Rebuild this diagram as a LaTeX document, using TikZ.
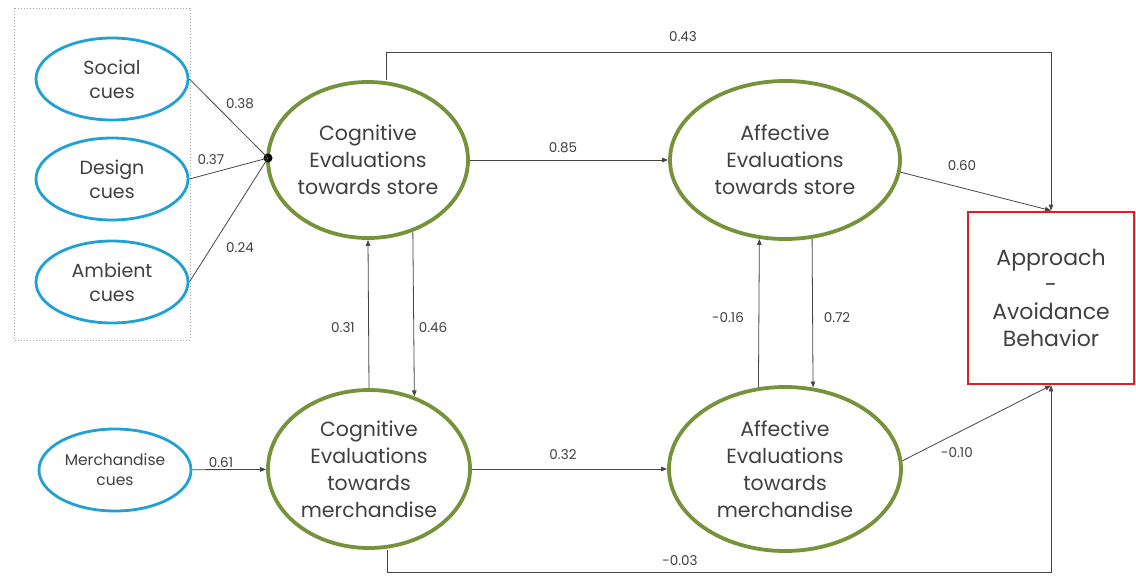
\documentclass[tikz,border=0pt]{standalone}
\usepackage{fontspec}
\setmainfont{Poppins}
\usetikzlibrary{shapes.geometric,arrows.meta}
\definecolor{cueblue}{RGB}{32,160,212}
\definecolor{evgreen}{RGB}{118,146,58}
\definecolor{boxred}{RGB}{220,32,40}
\definecolor{txt}{RGB}{64,64,64}
\definecolor{conn}{RGB}{70,70,70}
\tikzset{
  cue/.style={ellipse, draw=cueblue, line width=2.8pt, inner sep=0pt, minimum width=152pt, minimum height=82pt, text=txt, align=center, font=\fontsize{19}{24}\selectfont},
  evalnode/.style={ellipse, draw=evgreen, line width=3.8pt, inner sep=0pt, text=txt, align=center, font=\fontsize{20.5}{27}\selectfont},
  outbox/.style={rectangle, draw=boxred, line width=2.8pt, inner sep=0pt, minimum width=166pt, minimum height=172pt, text=txt, align=center, font=\fontsize{22}{27}\selectfont},
  arr/.style={draw=conn, line width=0.8pt, -{Triangle[length=6pt,width=4.5pt]}},
  ln/.style={draw=conn, line width=0.8pt},
  lab/.style={text=txt, font=\fontsize{13.5}{15}\selectfont, inner sep=1pt}
}
\begin{document}
\begin{tikzpicture}[x=1pt,y=-1pt]
\useasboundingbox[fill=white] (0,0) rectangle (1136,576);
% dotted group frame
\draw[gray!70, dotted, line width=1pt] (14,8) rectangle (190,340);
% cue nodes
\node[cue] (soc) at (112,79) {Social\\cues};
\node[cue] (des) at (112,179) {Design\\cues};
\node[cue] (amb) at (112,282) {Ambient\\cues};
\node[cue, font=\fontsize{15.5}{20}\selectfont] (mc) at (115,470) {Merchandise\\cues};
% evaluation nodes
\node[evalnode, minimum width=200pt, minimum height=156pt] (cs) at (368,160) {Cognitive\\Evaluations\\towards store};
\node[evalnode, minimum width=202pt, minimum height=158pt] (cm) at (369,469) {Cognitive\\Evaluations\\towards\\merchandise};
\node[evalnode, minimum width=230pt, minimum height=158pt] (as) at (785,160) {Affective\\Evaluations\\towards store};
\node[evalnode, minimum width=232pt, minimum height=164pt] (am) at (785,469) {Affective\\Evaluations\\towards\\merchandise};
% outcome
\node[outbox] (ab) at (1051,298) {Approach\\-\\Avoidance\\Behavior};
% junction
\coordinate (j) at (268,158);
\fill[black] (j) circle (4.5pt);
\draw[ln] (soc.east) -- (j);
\draw[ln] (des.east) -- (j);
\draw[ln] (amb.east) -- (j);
% connectors
\draw[arr] (mc) -- (cm);
\draw[arr] (cs) -- (as);
\draw[arr] (cm) -- (am);
\draw[arr] (cm.north) -- (cs.south);
\draw[arr] (cs.302) -- (cm.58);
\draw[arr] (am.108) -- (as.252);
\draw[arr] (as.289) -- (am.71);
\draw[arr] (as.354) -- (ab.north);
\draw[arr] (am.4) -- (ab.south);
\coordinate (t1) at (386,52);
\coordinate (b1) at (387,572);
\draw[arr] (t1 |- cs.north) -- (t1) -| (ab.north);
\draw[arr] (b1 |- cm.south) -- (b1) -| (ab.south);
% labels
\node[lab] (l43) at (683,37) {0.43};
\node[lab] (l38) at (240,104) {0.38};
\node[lab] (l37) at (211,160) {0.37};
\node[lab] (l24) at (240,248) {0.24};
\node[lab] (l85) at (563,148) {0.85};
\node[lab] (l60) at (962,166) {0.60};
\node[lab] (l31) at (343,328) {0.31};
\node[lab] (l46) at (433,328) {0.46};
\node[lab] (l16) at (728,318) {-0.16};
\node[lab] (l72) at (837,318) {0.72};
\node[lab] (l61) at (221,463) {0.61};
\node[lab] (l32) at (563,455) {0.32};
\node[lab] (l10) at (957,453) {-0.10};
\node[lab] (l03) at (680,561) {-0.03};
\end{tikzpicture}
\end{document}
